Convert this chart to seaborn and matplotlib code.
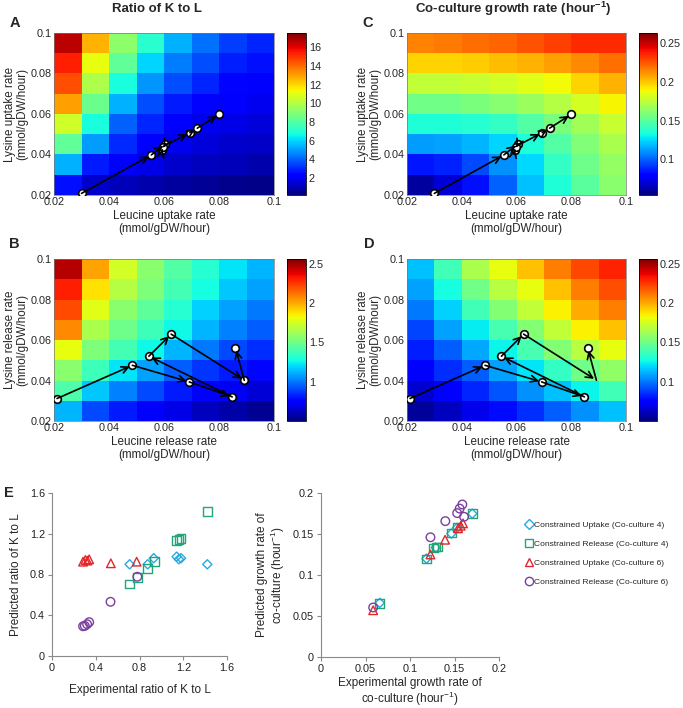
import numpy as np
import pandas as pd
import matplotlib
matplotlib.use('Agg')
import matplotlib.pyplot as plt
from matplotlib.lines import Line2D
import seaborn as sns

# ---- heatmap grids (rows top -> bottom: lysine 0.1 -> 0.02, cols leucine 0.02 -> 0.1)
ratio_uptake = [
    [16.6, 12.7, 9.2, 7.1, 5.4, 4.3, 3.4, 3.0],
    [15.4, 11.1, 8.3, 6.0, 4.5, 3.7, 2.9, 2.6],
    [14.5, 9.9, 6.8, 4.9, 3.7, 3.0, 2.4, 2.2],
    [13.0, 8.5, 5.4, 3.7, 2.8, 2.4, 2.1, 1.9],
    [10.6, 6.8, 4.0, 3.0, 2.3, 1.9, 1.8, 1.6],
    [8.3, 5.0, 3.1, 2.3, 1.9, 1.6, 1.4, 1.3],
    [5.4, 2.8, 2.1, 1.8, 1.4, 1.2, 1.1, 0.9],
    [2.6, 1.4, 1.1, 0.9, 0.7, 0.55, 0.45, 0.35],
]
growth_uptake = [
    [0.215, 0.217, 0.220, 0.222, 0.226, 0.230, 0.235, 0.235],
    [0.197, 0.197, 0.199, 0.202, 0.205, 0.209, 0.214, 0.219],
    [0.176, 0.176, 0.178, 0.180, 0.184, 0.188, 0.197, 0.205],
    [0.156, 0.156, 0.158, 0.161, 0.166, 0.173, 0.181, 0.190],
    [0.135, 0.135, 0.137, 0.140, 0.148, 0.158, 0.168, 0.178],
    [0.112, 0.113, 0.117, 0.124, 0.135, 0.148, 0.160, 0.170],
    [0.085, 0.087, 0.095, 0.110, 0.125, 0.140, 0.155, 0.165],
    [0.060, 0.070, 0.083, 0.100, 0.120, 0.135, 0.150, 0.162],
]
ratio_release = [
    [2.46, 2.02, 1.74, 1.57, 1.43, 1.32, 1.22, 1.12],
    [2.31, 1.88, 1.67, 1.53, 1.39, 1.28, 1.16, 1.08],
    [2.21, 1.78, 1.57, 1.45, 1.32, 1.18, 1.08, 1.00],
    [2.07, 1.65, 1.49, 1.37, 1.26, 1.12, 1.02, 0.95],
    [1.80, 1.53, 1.39, 1.26, 1.12, 1.00, 0.91, 0.85],
    [1.57, 1.37, 1.22, 1.08, 0.95, 0.87, 0.81, 0.77],
    [1.41, 1.16, 1.02, 0.91, 0.81, 0.75, 0.71, 0.66],
    [1.12, 0.91, 0.81, 0.75, 0.69, 0.62, 0.58, 0.54],
]
growth_release = [
    [0.115, 0.138, 0.165, 0.180, 0.195, 0.210, 0.222, 0.230],
    [0.108, 0.128, 0.150, 0.168, 0.180, 0.195, 0.210, 0.220],
    [0.100, 0.118, 0.138, 0.155, 0.170, 0.185, 0.200, 0.210],
    [0.090, 0.108, 0.124, 0.140, 0.155, 0.170, 0.185, 0.195],
    [0.082, 0.095, 0.110, 0.125, 0.140, 0.155, 0.168, 0.180],
    [0.075, 0.085, 0.095, 0.108, 0.122, 0.135, 0.150, 0.158],
    [0.065, 0.075, 0.083, 0.093, 0.105, 0.115, 0.125, 0.138],
    [0.055, 0.062, 0.070, 0.078, 0.085, 0.095, 0.105, 0.115],
]
rate_ticks = [0.02, 0.04, 0.06, 0.08, 0.1]
rate_ticklabels = ['0.02', '0.04', '0.06', '0.08', '0.1']

# ---- trajectories
uptake_leu = [0.030, 0.0554, 0.0605, 0.0594, 0.0597, 0.0694, 0.0721, 0.080]
uptake_lys = [0.0208, 0.0398, 0.0452, 0.0423, 0.0439, 0.0508, 0.0530, 0.0598]
release_leu = [0.0211, 0.0485, 0.0692, 0.0848, 0.0545, 0.0626, 0.0892, 0.0860]
release_lys = [0.0311, 0.0475, 0.0393, 0.0319, 0.0520, 0.0629, 0.0401, 0.0561]

# ---- panel E
ratio_up4_exp = [0.71, 0.875, 0.93, 1.14, 1.16, 1.18, 1.42]
ratio_up4_pred = [0.90, 0.90, 0.96, 0.975, 0.95, 0.96, 0.90]
ratio_rel4_exp = [0.71, 0.78, 0.875, 0.935, 1.14, 1.16, 1.18, 1.42]
ratio_rel4_pred = [0.706, 0.769, 0.861, 0.926, 1.133, 1.146, 1.156, 1.416]
ratio_up6_exp = [0.284, 0.306, 0.324, 0.34, 0.538, 0.774]
ratio_up6_pred = [0.926, 0.943, 0.936, 0.949, 0.91, 0.926]
ratio_rel6_exp = [0.284, 0.30, 0.321, 0.34, 0.535, 0.78]
ratio_rel6_pred = [0.292, 0.296, 0.312, 0.332, 0.532, 0.778]

gr_up4_exp = [0.066, 0.1185, 0.129, 0.1465, 0.1528, 0.170]
gr_up4_pred = [0.066, 0.1200, 0.1335, 0.1505, 0.1575, 0.1748]
gr_rel4_exp = [0.066, 0.1185, 0.1267, 0.129, 0.1308, 0.1465, 0.1528, 0.170]
gr_rel4_pred = [0.0653, 0.1196, 0.133, 0.1339, 0.1343, 0.151, 0.158, 0.175]
gr_up6_exp = [0.0586, 0.123, 0.1394, 0.154, 0.157, 0.1596]
gr_up6_pred = [0.057, 0.125, 0.143, 0.157, 0.160, 0.163]
gr_rel6_exp = [0.0586, 0.123, 0.1397, 0.153, 0.1558, 0.1588, 0.1607]
gr_rel6_pred = [0.0604, 0.146, 0.1657, 0.1755, 0.181, 0.186, 0.171]

series_names = ['Constrained Uptake (Co-culture 4)', 'Constrained Release (Co-culture 4)',
                'Constrained Uptake (Co-culture 6)', 'Constrained Release (Co-culture 6)']
series_colors = ['#29a9e0', '#21a67a', '#e3262b', '#7b3fa0']
series_markers = ['D', 's', '^', 'o']
series_sizes = [22, 38, 38, 38]

sns.set_theme(style='white')
plt.rcParams['font.family'] = ['Liberation Sans', 'DejaVu Sans']
plt.rcParams['mathtext.default'] = 'regular'

W, H = 683, 708
fig = plt.figure(figsize=(W / 100, H / 100), dpi=100)


def box(l, t, r, b):
    return [l / W, 1 - b / H, (r - l) / W, (b - t) / H]


def to_cells(xs, ys):
    return (np.array(xs) - 0.02) / 0.01, (0.1 - np.array(ys)) / 0.01


def heat(rect, crect, grid, vmin, vmax, cticks, clabels, ylab, xlab):
    ax = fig.add_axes(box(*rect))
    cax = fig.add_axes(box(*crect))
    df = pd.DataFrame(grid)
    sns.heatmap(df, ax=ax, cbar_ax=cax, cmap='jet', vmin=vmin, vmax=vmax,
                xticklabels=False, yticklabels=False)
    pos = (np.array(rate_ticks) - 0.02) / 0.01
    ax.set_xticks(pos)
    ax.set_xticklabels(rate_ticklabels, fontsize=7.8)
    ax.set_yticks(pos)
    ax.set_yticklabels(rate_ticklabels[::-1], fontsize=7.8, rotation=0)
    ax.tick_params(length=0, pad=1.5)
    for s in ax.spines.values():
        s.set_visible(True)
        s.set_linewidth(0.5)
        s.set_color('#777777')
    ax.set_ylabel(ylab, fontsize=8.4, linespacing=1.05, labelpad=1.5)
    ax.set_xlabel(xlab, fontsize=8.4, linespacing=1.1, labelpad=2)
    cb = ax.collections[0].colorbar
    cb.set_ticks(cticks)
    cb.set_ticklabels(clabels)
    cb.outline.set_linewidth(0.6)
    cb.outline.set_edgecolor('black')
    cb.ax.tick_params(labelsize=7.8, length=2.5, direction='in', pad=2, width=0.6)
    return ax


def draw_path(ax, xs, ys, skip=()):
    cx, cy = to_cells(xs, ys)
    keep = [i for i in range(len(cx)) if i not in skip]
    ax.plot(cx[keep], cy[keep], 'o', mfc='white', mec='black', ms=5.5, mew=1.2, zorder=3)
    for i in range(len(cx) - 1):
        ax.annotate('', xy=(cx[i + 1], cy[i + 1]), xytext=(cx[i], cy[i]),
                    arrowprops=dict(arrowstyle='->,head_length=0.4,head_width=0.2',
                                    color='black', lw=1.2, shrinkA=0, shrinkB=2),
                    zorder=4)


up_y = 'Lysine uptake rate\n(mmol/gDW/hour)'
up_x = 'Leucine uptake rate\n(mmol/gDW/hour)'
rel_y = 'Lysine release rate\n(mmol/gDW/hour)'
rel_x = 'Leucine release rate\n(mmol/gDW/hour)'

axA = heat((54, 33, 274, 195), (287, 33, 306, 195), ratio_uptake, 0.2, 17.5,
           [2, 4, 6, 8, 10, 12, 14, 16], ['2', '4', '6', '8', '10', '12', '14', '16'], up_y, up_x)
draw_path(axA, uptake_leu, uptake_lys)
axC = heat((407, 33, 626, 195), (639, 33, 657, 195), growth_uptake, 0.054, 0.263,
           [0.1, 0.15, 0.2, 0.25], ['0.1', '0.15', '0.2', '0.25'], up_y, up_x)
draw_path(axC, uptake_leu, uptake_lys)
axB = heat((54, 259, 274, 421), (287, 259, 306, 421), ratio_release, 0.5, 2.56,
           [1, 1.5, 2, 2.5], ['1', '1.5', '2', '2.5'], rel_y, rel_x)
draw_path(axB, release_leu, release_lys)
axD = heat((407, 259, 626, 421), (639, 259, 657, 421), growth_release, 0.05, 0.256,
           [0.1, 0.15, 0.2, 0.25], ['0.1', '0.15', '0.2', '0.25'], rel_y, rel_x)
draw_path(axD, release_leu, release_lys, skip=(6,))

fig.text(157 / W, 1 - 9 / H, 'Ratio of K to L', ha='center', va='center', fontsize=9.5, fontweight='bold')
fig.text(513 / W, 1 - 9 / H, 'Co-culture growth rate (hour$^{-1}$)', ha='center', va='center',
         fontsize=9.5, fontweight='bold')
for letter, (px, py) in zip('ACBDE', [(15, 23), (368, 23), (14, 244), (369, 244), (9, 493)]):
    fig.text(px / W, 1 - py / H, letter, ha='center', va='center', fontsize=10.5, fontweight='bold')


def style_scatter(ax):
    sns.despine(ax=ax)
    for s in ['left', 'bottom']:
        ax.spines[s].set_color('#8a8a8a')
        ax.spines[s].set_linewidth(0.8)
    ax.tick_params(axis='both', direction='out', length=3, width=0.8, color='#8a8a8a',
                   labelsize=7.8, labelcolor='#222222', pad=2,
                   left=True, bottom=True)


axE1 = fig.add_axes(box(52, 493, 227, 656))
e1 = [(ratio_up4_exp, ratio_up4_pred), (ratio_rel4_exp, ratio_rel4_pred),
      (ratio_up6_exp, ratio_up6_pred), (ratio_rel6_exp, ratio_rel6_pred)]
for (xs, ys), col, mk, sz in zip(e1, series_colors, series_markers, series_sizes):
    sns.scatterplot(x=xs, y=ys, ax=axE1, color=col, marker=mk, s=sz,
                    facecolor='none', edgecolor=col, linewidth=1.0)
axE1.set_xlim(0, 1.6)
axE1.set_ylim(0, 1.6)
axE1.set_xticks([0, 0.4, 0.8, 1.2, 1.6])
axE1.set_xticklabels(['0', '0.4', '0.8', '1.2', '1.6'])
axE1.set_yticks([0, 0.4, 0.8, 1.2, 1.6])
axE1.set_yticklabels(['0', '0.4', '0.8', '1.2', '1.6'])
style_scatter(axE1)
axE1.set_xlabel('Experimental ratio of K to L', fontsize=8.5, labelpad=8)
axE1.set_ylabel('Predicted ratio of K to L', fontsize=8.5, labelpad=6)

axE2 = fig.add_axes(box(321, 493, 499, 657))
e2 = [(gr_up4_exp, gr_up4_pred), (gr_rel4_exp, gr_rel4_pred),
      (gr_up6_exp, gr_up6_pred), (gr_rel6_exp, gr_rel6_pred)]
for (xs, ys), col, mk, sz in zip(e2, series_colors, series_markers, series_sizes):
    sns.scatterplot(x=xs, y=ys, ax=axE2, color=col, marker=mk, s=sz,
                    facecolor='none', edgecolor=col, linewidth=1.0)
axE2.set_xlim(0, 0.2)
axE2.set_ylim(0, 0.2)
axE2.set_xticks([0, 0.05, 0.1, 0.15, 0.2])
axE2.set_xticklabels(['0', '0.05', '0.1', '0.15', '0.2'])
axE2.set_yticks([0, 0.05, 0.1, 0.15, 0.2])
axE2.set_yticklabels(['0', '0.05', '0.1', '0.15', '0.2'])
style_scatter(axE2)
axE2.set_xlabel('Experimental growth rate of\nco-culture (hour$^{-1}$)', fontsize=8.5,
                labelpad=2, linespacing=1.05)
axE2.set_ylabel('Predicted growth rate of\nco-culture (hour$^{-1}$)', fontsize=8.5,
                labelpad=4, linespacing=1.1)

handles = [Line2D([], [], linestyle='none', marker=mk, mfc='none', mec=col, mew=1.0,
                  ms=(5 if mk == 'D' else 6))
           for col, mk in zip(series_colors, series_markers)]
fig.legend(handles, series_names, loc='upper left', bbox_to_anchor=(526 / W, 1 - 521 / H),
           frameon=False, fontsize=6.1, labelspacing=1.3, handlelength=0.8,
           handletextpad=0.2, borderaxespad=0, borderpad=0)

fig.savefig('out.png', dpi=100)
